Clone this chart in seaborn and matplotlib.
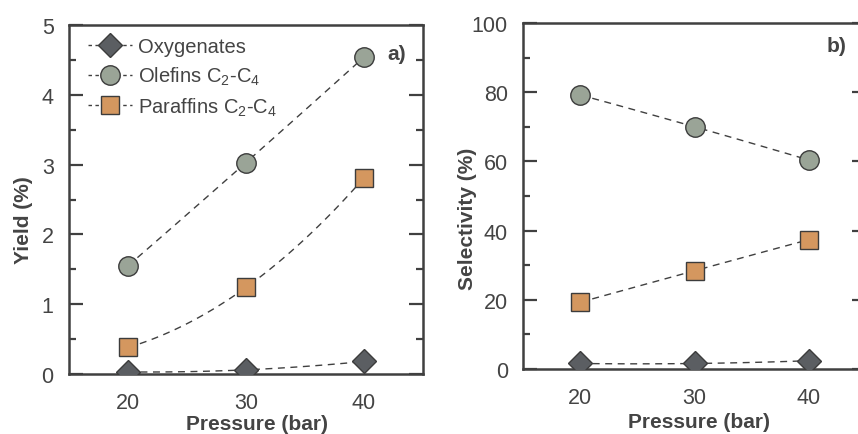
import numpy as np
import pandas as pd
import matplotlib
matplotlib.use("Agg")
import matplotlib.pyplot as plt
from matplotlib.lines import Line2D
from matplotlib.ticker import MultipleLocator
import seaborn as sns

# --- data -------------------------------------------------------------
pressure = [20, 30, 40]
series_names = ["Oxygenates", "Olefins C$_2$-C$_4$", "Paraffins C$_2$-C$_4$"]

yield_oxygenates = [0.03, 0.06, 0.18]
yield_olefins = [1.55, 3.03, 4.54]
yield_paraffins = [0.38, 1.24, 2.81]

sel_oxygenates = [1.6, 1.6, 2.4]
sel_olefins = [79.2, 70.0, 60.4]
sel_paraffins = [19.3, 28.4, 37.4]

yield_ticks = [0, 1, 2, 3, 4, 5]
sel_ticks = [0, 20, 40, 60, 80, 100]

# --- style ------------------------------------------------------------
sns.set_theme(style="white")
plt.rcParams["font.family"] = ["Liberation Sans", "DejaVu Sans"]
plt.rcParams["mathtext.fontset"] = "custom"
plt.rcParams["mathtext.rm"] = "Liberation Sans"
plt.rcParams["mathtext.it"] = "Liberation Sans"
plt.rcParams["mathtext.bf"] = "Liberation Sans:bold"

TEXT = "#444444"
SPINE = "#404040"
EDGE = "#3c3c3c"
TICK_FS = 15.5
LABEL_FS = 15
styles = [
    dict(marker="D", color="#5b5e62", size=12),
    dict(marker="o", color="#9aa497", size=14),
    dict(marker="s", color="#d4975f", size=12.5),
]

fig = plt.figure(figsize=(8.58, 4.35), dpi=100)
ax_a = fig.add_axes([0.0804, 0.1379, 0.4126, 0.8023])
ax_b = fig.add_axes([0.6096, 0.1494, 0.3998, 0.7954])


def draw_panel(ax, series, ylim, ticks, minor, ylabel, tag, tag_xy,
               ylabel_xy, xlabel_xy):
    for vals, st in zip(series, styles):
        df = pd.DataFrame({"p": pressure, "v": vals})
        # smooth dashed trend through the three points
        coef = np.polyfit(df["p"], df["v"], 2)
        grid = np.linspace(pressure[0], pressure[-1], 60)
        fit = pd.DataFrame({"p": grid, "v": np.polyval(coef, grid)})
        sns.lineplot(data=fit, x="p", y="v", ax=ax, color=SPINE, lw=1.0,
                     dashes=False, linestyle=(0, (5, 4)), zorder=2)
        ax.plot(df["p"], df["v"], linestyle="none", marker=st["marker"],
                markersize=st["size"], markerfacecolor=st["color"],
                markeredgecolor=EDGE, markeredgewidth=1.0, zorder=3,
                clip_on=True)

    ax.set_xlim(15, 45)
    ax.set_ylim(*ylim)
    ax.set_xticks(pressure)
    ax.set_yticks(ticks)
    ax.yaxis.set_minor_locator(MultipleLocator(minor))
    ax.tick_params(axis="x", length=0, pad=13, labelsize=TICK_FS,
                   labelcolor=TEXT)
    ax.tick_params(axis="y", which="major", direction="in", length=10,
                   width=1.6, color=SPINE, left=True, right=True, pad=11,
                   labelsize=TICK_FS, labelcolor=TEXT)
    ax.tick_params(axis="y", which="minor", direction="in", length=5,
                   width=1.6, color=SPINE, left=True, right=True)
    for sp in ax.spines.values():
        sp.set_color(SPINE)
        sp.set_linewidth(1.8)
    ax.set_xlabel("Pressure (bar)", fontsize=LABEL_FS, fontweight="bold",
                  color=TEXT, va="center")
    ax.set_ylabel(ylabel, fontsize=LABEL_FS, fontweight="bold", color=TEXT,
                  va="center")
    ax.xaxis.set_label_coords(*xlabel_xy)
    ax.yaxis.set_label_coords(*ylabel_xy)
    ax.text(*tag_xy, tag, transform=ax.transAxes, fontsize=LABEL_FS,
            fontweight="bold", color=TEXT, ha="center", va="center")
    ax.grid(False)


draw_panel(ax_a, [yield_oxygenates, yield_olefins, yield_paraffins],
           (0, 5), yield_ticks, 0.5, "Yield (%)", "a)", (0.927, 0.917),
           (-0.128, 0.444), (0.53, -0.143))
draw_panel(ax_b, [sel_oxygenates, sel_olefins, sel_paraffins],
           (0, 100), sel_ticks, 10, "Selectivity (%)", "b)", (0.915, 0.934),
           (-0.162, 0.438), (0.513, -0.153))

handles = [
    Line2D([], [], color=SPINE, lw=1.0, linestyle=(0, (2.5, 2.5)),
           marker=st["marker"], markersize=st["size"],
           markerfacecolor=st["color"], markeredgecolor=EDGE,
           markeredgewidth=1.0)
    for st in styles
]
ax_a.legend(handles, series_names, loc="upper left",
            bbox_to_anchor=(0.02, 1.0), frameon=False, fontsize=14.5,
            handlelength=2.2, handletextpad=0.3, labelspacing=0.42,
            borderaxespad=0.2, labelcolor=TEXT)

fig.savefig("out.png", dpi=100)
